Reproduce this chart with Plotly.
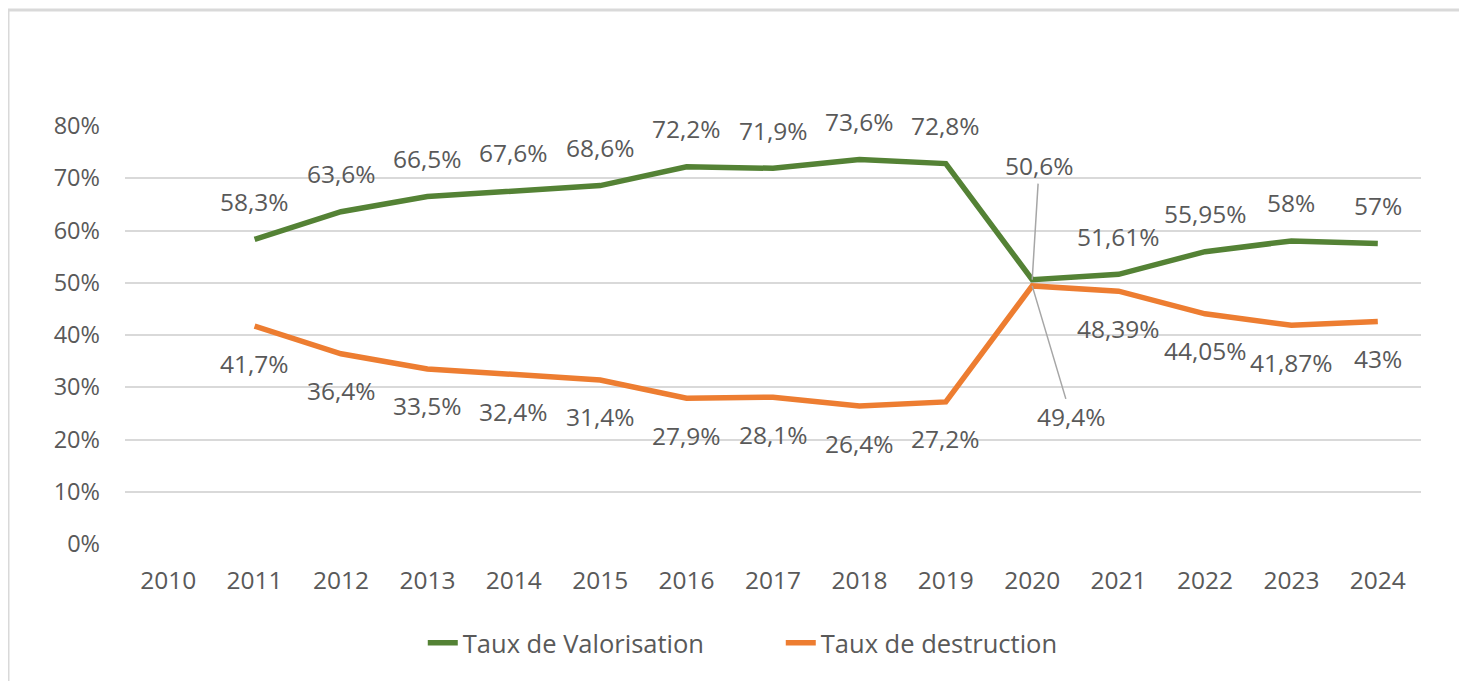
import plotly.graph_objects as go

years = list(range(2010, 2025))
valorisation = [None, 58.3, 63.6, 66.5, 67.6, 68.6, 72.2, 71.9, 73.6, 72.8, 50.6, 51.61, 55.95, 58.0, 57.5]
destruction = [None, 41.7, 36.4, 33.5, 32.4, 31.4, 27.9, 28.1, 26.4, 27.2, 49.4, 48.39, 44.05, 41.87, 42.6]
valo_labels = [None, "58,3%", "63,6%", "66,5%", "67,6%", "68,6%", "72,2%", "71,9%", "73,6%", "72,8%", "50,6%", "51,61%", "55,95%", "58%", "57%"]
dest_labels = [None, "41,7%", "36,4%", "33,5%", "32,4%", "31,4%", "27,9%", "28,1%", "26,4%", "27,2%", "49,4%", "48,39%", "44,05%", "41,87%", "43%"]
y_ticks = [0, 10, 20, 30, 40, 50, 60, 70, 80]
y_ticktext = [f"{v}%" for v in y_ticks]

GREEN = "#548235"
ORANGE = "#ED7D31"
TXT = "#595959"
FONT = "Open Sans"

# page has an 8px body margin; figure is sized/offset to compensate
OFF = 8
W, H = 1467 - OFF, 681 - OFF
ML, MR, MT, MB = 125 - OFF, 46, 126 - OFF, 137
PW, PH = W - ML - MR, H - MT - MB

fig = go.Figure()
fig.add_trace(go.Scatter(x=years, y=valorisation, mode="lines", name="Taux de Valorisation",
                         line=dict(color=GREEN, width=5.5), connectgaps=False))
fig.add_trace(go.Scatter(x=years, y=destruction, mode="lines", name="Taux de destruction",
                         line=dict(color=ORANGE, width=5.5), connectgaps=False))

lab_font = dict(family=FONT, size=24.5, color=TXT)
ann = []
for i, yr in enumerate(years):
    if valorisation[i] is None:
        continue
    if yr == 2020:
        ann.append(dict(x=yr, y=valorisation[i], text=valo_labels[i], showarrow=True, arrowhead=0,
                        arrowwidth=1.5, arrowcolor="#A6A6A6", ax=7, ay=-114, standoff=0, font=lab_font))
        ann.append(dict(x=yr, y=destruction[i], text=dest_labels[i], showarrow=True, arrowhead=0,
                        arrowwidth=1.5, arrowcolor="#A6A6A6", ax=39, ay=131, standoff=0, font=lab_font))
        continue
    ann.append(dict(x=yr, y=valorisation[i], text=valo_labels[i], showarrow=False, yshift=38, font=lab_font))
    ann.append(dict(x=yr, y=destruction[i], text=dest_labels[i], showarrow=False, yshift=-37, font=lab_font))

# outer frame (page coords 8..1462 x, from y=10)
fx0 = (8 - OFF - ML) / PW
fx1 = (1462 - OFF - ML) / PW
fy1 = (PH + MT - (10 - OFF)) / PH
fy0 = (PH + MT - 720) / PH

fig.update_layout(
    width=W, height=H,
    margin=dict(l=ML, r=MR, t=MT, b=MB),
    paper_bgcolor="white", plot_bgcolor="white",
    font=dict(family=FONT, size=24, color=TXT),
    annotations=ann,
    shapes=[dict(type="rect", xref="paper", yref="paper", x0=fx0, x1=fx1, y0=fy0, y1=fy1,
                 line=dict(color="#D9D9D9", width=3), layer="below")],
    legend=dict(orientation="h", x=0.506, xanchor="center", y=-0.237, yanchor="middle",
                font=dict(family=FONT, size=25.5, color=TXT), entrywidth=313, entrywidthmode="pixels",
                bgcolor="rgba(0,0,0,0)"),
    xaxis=dict(range=[2009.5, 2024.5], tickvals=years, ticktext=[str(y) for y in years],
               showgrid=False, showline=False, zeroline=False,
               tickfont=dict(family=FONT, size=24.5, color=TXT), ticks="", ticklabelstandoff=19),
    yaxis=dict(range=[0, 80], tickvals=y_ticks, ticktext=y_ticktext, showgrid=True,
               gridcolor="#D9D9D9", gridwidth=1.5, zeroline=False, showline=False, ticks="",
               tickfont=dict(family=FONT, size=23.5, color=TXT), ticklabelstandoff=24),
)
fig.write_html("out.html")
